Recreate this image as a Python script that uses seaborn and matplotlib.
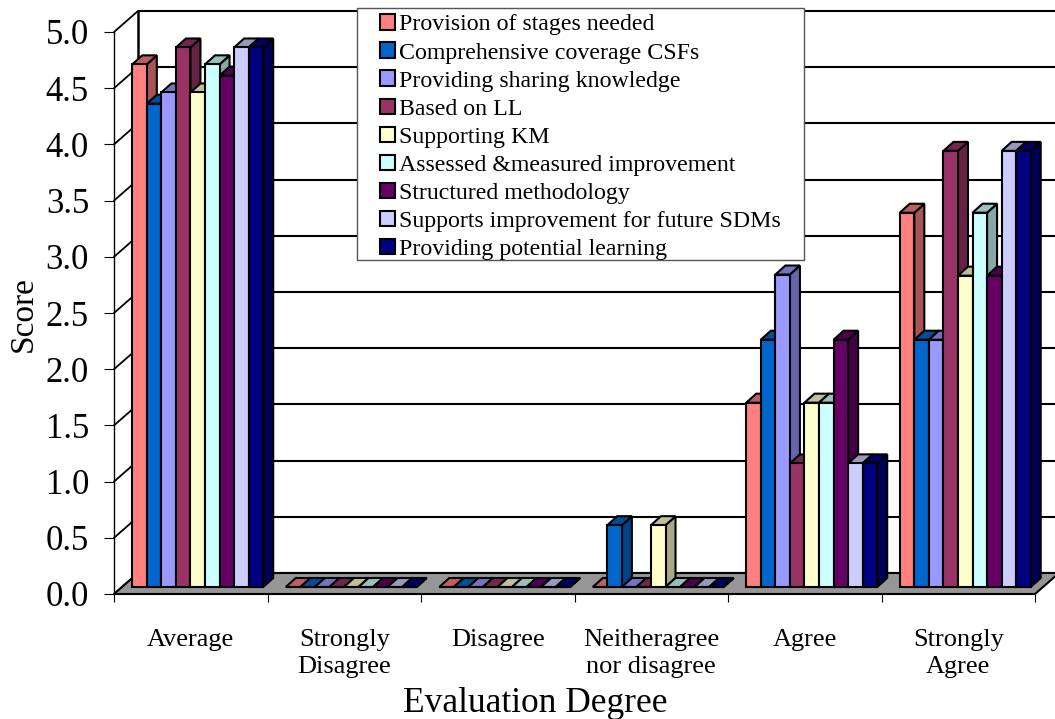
import matplotlib
matplotlib.use("Agg")
import matplotlib.pyplot as plt
from matplotlib.colors import to_rgb
from matplotlib.patches import Polygon, Rectangle
import numpy as np
import pandas as pd
import seaborn as sns

categories = ["Average", "Strongly\nDisagree", "Disagree", "Neitheragree\nnor disagree", "Agree", "Strongly\nAgree"]
series_names = [
    "Provision of stages needed",
    "Comprehensive coverage CSFs",
    "Providing sharing knowledge",
    "Based on LL",
    "Supporting KM",
    "Assessed &measured improvement",
    "Structured methodology",
    "Supports improvement for future SDMs",
    "Providing potential learning",
]
provision = [4.65, 0, 0, 0, 1.64, 3.33]
coverage = [4.30, 0, 0, 0.55, 2.20, 2.20]
sharing = [4.40, 0, 0, 0, 2.78, 2.20]
based_ll = [4.80, 0, 0, 0, 1.10, 3.88]
supporting_km = [4.40, 0, 0, 0.55, 1.64, 2.77]
assessed = [4.65, 0, 0, 0, 1.64, 3.33]
structured = [4.55, 0, 0, 0, 2.20, 2.77]
future_sdms = [4.80, 0, 0, 0, 1.10, 3.88]
potential = [4.80, 0, 0, 0, 1.10, 3.88]
colors = ["#FF8080", "#0066CC", "#9999FF", "#993366", "#FFFFCC", "#CCFFFF", "#660066", "#CCCCFF", "#000080"]
y_ticks = [0, 0.5, 1, 1.5, 2, 2.5, 3, 3.5, 4, 4.5, 5]

all_values = [provision, coverage, sharing, based_ll, supporting_km, assessed, structured, future_sdms, potential]
rows = []
for name, vals in zip(series_names, all_values):
    for cat, v in zip(categories, vals):
        rows.append({"cat": cat, "series": name, "score": v})
df = pd.DataFrame(rows)

sns.set_theme(style="white")
plt.rcParams["font.family"] = ["Liberation Serif", "DejaVu Serif"]

W, H = 1055, 719
fig = plt.figure(figsize=(W / 100, H / 100), dpi=100)
ax = fig.add_axes([114 / W, (H - 594) / H, 921 / W, 562 / H])

sns.barplot(data=df, x="cat", y="score", hue="series", hue_order=series_names,
            palette=dict(zip(series_names, colors)), saturation=1, width=0.853,
            gap=0, edgecolor="black", linewidth=1.5, ax=ax)
ax.set_xlim(-0.5, 5.5)
ax.set_ylim(0, 5)

# pixels -> data units, used for the fake 3D depth
px_x = 921 / 6
px_y = 562 / 5
wall_dx, wall_dy = 24 / px_x, 21 / px_y
bar_dx, bar_dy = 10 / px_x, 9 / px_y
shift_x, shift_y = 7 / px_x, 7 / px_y

# floor and walls
x0, x1 = -0.5, 5.5
ax.add_patch(Polygon([(x0, 0), (x1, 0), (x1 + wall_dx, wall_dy), (x0 + wall_dx, wall_dy)],
                     closed=True, fc="#969696", ec="black", lw=1.5, clip_on=False, zorder=1.5))
for t in y_ticks:
    ax.plot([x0 + wall_dx, x1 + wall_dx], [t + wall_dy, t + wall_dy], color="black", lw=1.5,
            clip_on=False, zorder=1, solid_capstyle="butt")
    ax.plot([x0, x0 + wall_dx], [t, t + wall_dy], color="black", lw=1.3, clip_on=False, zorder=1)
ax.plot([x0 + wall_dx, x0 + wall_dx], [wall_dy, 5 + wall_dy], color="black", lw=1.8, clip_on=False, zorder=1)

# shift bars into the floor and add side and top faces, left to right
bars = sorted([b for c in ax.containers for b in c], key=lambda b: b.get_x())
for i, b in enumerate(bars):
    z = 2 + i * 0.01
    b.set_x(b.get_x() + shift_x)
    bx, bw, bh = b.get_x(), b.get_width(), b.get_height()
    base = shift_y
    b.set_y(base)
    b.set_clip_on(False)
    b.set_zorder(z + 0.005)
    rgb = np.array(to_rgb(b.get_facecolor()[:3]))
    top_y = base + bh
    ax.add_patch(Polygon([(bx + bw, base), (bx + bw + bar_dx, base + bar_dy),
                          (bx + bw + bar_dx, top_y + bar_dy), (bx + bw, top_y)],
                         closed=True, fc=rgb * 0.66, ec="black", lw=1.5, clip_on=False, zorder=z))
    ax.add_patch(Polygon([(bx, top_y), (bx + bar_dx, top_y + bar_dy),
                          (bx + bw + bar_dx, top_y + bar_dy), (bx + bw, top_y)],
                         closed=True, fc=rgb * 0.75, ec="black", lw=1.5, clip_on=False, zorder=z))

# ticks, labels
for s in ["top", "right", "bottom"]:
    ax.spines[s].set_visible(False)
ax.spines["left"].set_linewidth(1.0)
ax.spines["left"].set_color("black")
ax.set_yticks(y_ticks)
ax.set_yticklabels([f"{t:.1f}" for t in y_ticks], fontsize=25)
ax.tick_params(axis="y", left=True, length=7, width=0.8, pad=11, color="black", labelcolor="black")
ax.set_xticks(range(len(categories)))
ax.set_xticklabels(categories, fontsize=19, linespacing=1.3)
ax.set_xticks(np.arange(-0.5, 6), minor=True)
ax.tick_params(axis="x", which="major", bottom=False, pad=19, labelcolor="black")
ax.tick_params(axis="x", which="minor", bottom=True, length=6, width=0.8, color="black")
ax.set_xlabel("Evaluation Degree", fontsize=25.5, color="black", va="center")
ax.xaxis.set_label_coords((535 - 114) / 921, (594 - 703) / 562)
ax.set_ylabel("Score", fontsize=24, color="black", va="center")
ax.yaxis.set_label_coords((23 - 114) / 921, (594 - 314) / 562)

# legend box is drawn apart so the entries can sit inset on the left
fig.add_artist(Rectangle((357 / W, (H - 260) / H), 447 / W, 252 / H, transform=fig.transFigure,
                         fc="white", ec="#555555", lw=1.0, zorder=99))
handles, labels = ax.get_legend_handles_labels()
leg = ax.legend(handles, labels, loc="upper left", bbox_to_anchor=(375 / W, (H - 9.5) / H),
                bbox_transform=fig.transFigure, borderaxespad=0, fontsize=17.2,
                frameon=False, title=None, handlelength=0.62, handleheight=0.62,
                handletextpad=0.19, labelspacing=0.29, borderpad=0.2)
leg.set_zorder(100)
leg.remove()
fig.add_artist(leg)
for t in leg.get_texts():
    t.set_color("black")

fig.savefig("out.png", dpi=100)
